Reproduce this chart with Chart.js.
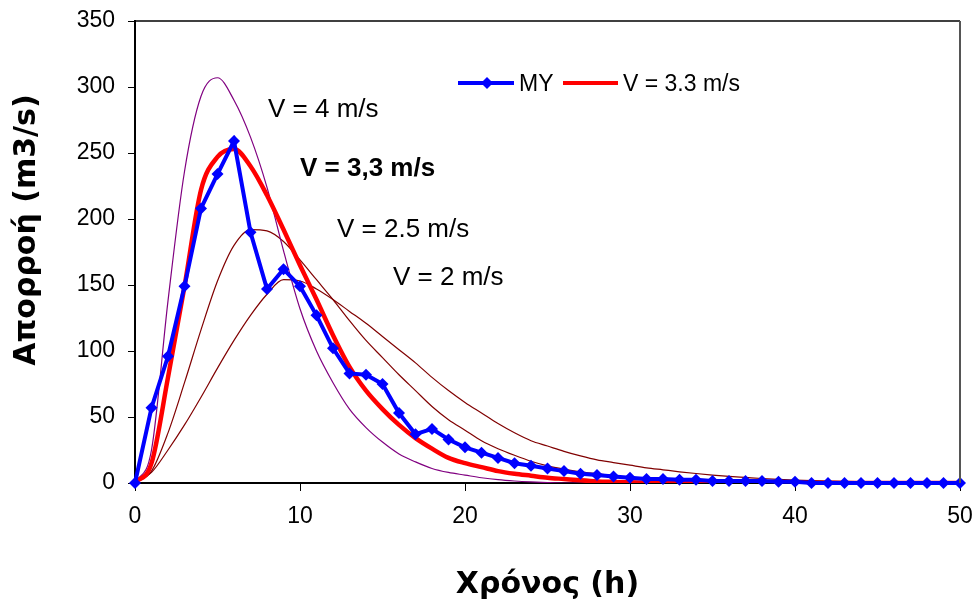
<!DOCTYPE html>
<html>
<head>
<meta charset="utf-8">
<script src="https://cdn.jsdelivr.net/npm/chart.js@4/dist/chart.umd.min.js"></script>
<style>
    body { margin: 0; background: #fff; }
    canvas { display: block; }
</style>
</head>
<body>
<canvas id="canvas" width="974" height="606"></canvas>
<script>
// time axis (h)
var hours = [0, 1, 2, 3, 4, 5, 6, 7, 8, 9, 10, 11, 12, 13, 14, 15, 16, 17, 18, 19, 20,
    21, 22, 23, 24, 25, 26, 27, 28, 29, 30, 31, 32, 33, 34, 35, 36, 37, 38, 39, 40,
    41, 42, 43, 44, 45, 46, 47, 48, 49, 50];

// measured runoff (m3/s)
var flowMY = [0, 57, 96, 149, 208, 234, 259, 190, 147, 162, 149, 127, 102, 83, 82, 75, 53, 37, 41, 33, 27,
    23, 19, 15, 13, 11, 9, 7, 6, 5, 4, 3, 3, 2.5, 2.5, 1.5, 1.5, 1.5, 1.5, 1, 1,
    0, 0, 0, 0, 0, 0, 0, 0, 0, 0];

// simulated runoff for different flow velocities
var flowV4 = [0, 25, 138, 236, 293, 307, 290, 262, 224, 176, 132, 100, 76, 56, 42, 31, 22, 16, 11, 8, 6,
    4, 2.5, 1.5, 0.8, 0.3, 0, 0, 0, 0, 0, 0, 0, 0, 0, 0, 0, 0, 0, 0, 0,
    0, 0, 0, 0, 0, 0, 0, 0, 0, 0];
var flowV33 = [0, 15, 80, 149, 222, 247, 253, 240, 218, 192, 165, 139, 112, 88, 70, 56, 44, 34, 26, 19, 15,
    12, 9, 7, 5.5, 4, 3, 2, 1.2, 0.8, 0.5, 0.3, 0, 0, 0, 0, 0, 0, 0, 0, 0,
    0, 0, 0, 0, 0, 0, 0, 0, 0, 0];
var flowV25 = [0, 9, 38, 76, 116, 153, 180, 192, 191, 183, 169, 154, 139, 123, 108, 95, 82, 70, 58, 48, 40,
    32, 26, 21, 16.5, 13, 10.5, 8.5, 7, 5.5, 4.5, 3.5, 2.8, 2.2, 1.7, 1.3, 1, 0.7, 0.5, 0.3, 0.2,
    0.1, 0, 0, 0, 0, 0, 0, 0, 0, 0];
var flowV2 = [0, 8, 25, 44, 65, 87, 108, 127, 143, 154, 153, 147, 139, 130, 121, 111, 101, 91, 80, 70, 61,
    53, 45, 38, 32, 28, 24, 20.5, 17.5, 15.5, 13.5, 11.5, 10, 8.5, 7.2, 6, 5, 4.2, 3.4, 2.8, 2.2,
    1.8, 1.5, 1.2, 1, 0.8, 0.6, 0.5, 0.4, 0.3, 0.2];

var yTicks = [0, 50, 100, 150, 200, 250, 300, 350];
var xTicks = [0, 10, 20, 30, 40, 50];

function pairs(values) {
    var out = [];
    for (let i = 0; i < values.length; i++) {
        out.push({ x: hours[i], y: values[i] });
    }
    return out;
}

var ctx = document.getElementById('canvas').getContext('2d');

// frame on top/right, y title and the text placed inside the plot
var extras = {
    id: 'extras',
    afterDatasetsDraw: function (chart) {
        var c = chart.ctx;
        var a = chart.chartArea;
        c.save();
        c.strokeStyle = '#000';
        c.lineWidth = 1.5;
        c.beginPath();
        c.moveTo(a.left, a.top);
        c.lineTo(a.right, a.top);
        c.stroke();
        c.strokeStyle = '#555';
        c.lineWidth = 2;
        c.beginPath();
        c.moveTo(a.right, a.top);
        c.lineTo(a.right, a.bottom);
        c.stroke();

        // legend
        c.lineWidth = 4;
        c.strokeStyle = '#0000FF';
        c.beginPath();
        c.moveTo(458, 83);
        c.lineTo(514, 83);
        c.stroke();
        c.fillStyle = '#0000FF';
        c.beginPath();
        c.moveTo(487, 77);
        c.lineTo(493, 83);
        c.lineTo(487, 89);
        c.lineTo(481, 83);
        c.closePath();
        c.fill();
        c.strokeStyle = '#FF0000';
        c.beginPath();
        c.moveTo(563, 83);
        c.lineTo(618, 83);
        c.stroke();

        c.fillStyle = '#000';
        c.textBaseline = 'alphabetic';
        c.font = '23px Arial, "Liberation Sans"';
        c.fillText('MY', 519, 91);
        c.fillText('V = 3.3 m/s', 623, 91);

        c.font = '26px Arial, "Liberation Sans"';
        c.fillText('V = 4 m/s', 268, 117);
        c.fillText('V = 2.5 m/s', 337, 237);
        c.fillText('V = 2 m/s', 393, 285);
        c.font = 'bold 26px Arial, "Liberation Sans"';
        c.fillText('V = 3,3 m/s', 300, 176);

        // y axis title
        c.translate(27, 230);
        c.rotate(-Math.PI / 2);
        c.textAlign = 'center';
        c.textBaseline = 'middle';
        c.font = 'bold 30px "DejaVu Sans"';
        c.fillText('Απορροή (m3/s)', 0, 0);
        c.restore();
    }
};

var myChart = new Chart(ctx, {
    type: 'line',
    data: {
        datasets: [{
            label: 'MY',
            data: pairs(flowMY),
            borderColor: '#0000FF',
            backgroundColor: '#0000FF',
            borderWidth: 4,
            pointStyle: 'rectRot',
            pointRadius: 6,
            pointBorderWidth: 0,
            tension: 0,
            clip: false,
            order: 0
        }, {
            label: 'V = 3.3 m/s',
            data: pairs(flowV33),
            borderColor: '#FF0000',
            borderWidth: 4.5,
            pointRadius: 0,
            cubicInterpolationMode: 'monotone',
            order: 1
        }, {
            label: 'V = 4 m/s',
            data: pairs(flowV4),
            borderColor: '#800080',
            borderWidth: 1.2,
            pointRadius: 0,
            cubicInterpolationMode: 'monotone',
            order: 2
        }, {
            label: 'V = 2.5 m/s',
            data: pairs(flowV25),
            borderColor: '#800000',
            borderWidth: 1.2,
            pointRadius: 0,
            cubicInterpolationMode: 'monotone',
            order: 3
        }, {
            label: 'V = 2 m/s',
            data: pairs(flowV2),
            borderColor: '#800000',
            borderWidth: 1.2,
            pointRadius: 0,
            cubicInterpolationMode: 'monotone',
            order: 4
        }]
    },
    options: {
        responsive: false,
        animation: false,
        layout: { padding: { left: 0, right: 14, top: 21, bottom: 0 } },
        plugins: {
            legend: { display: false },
            tooltip: { enabled: false }
        },
        scales: {
            x: {
                type: 'linear',
                min: 0,
                max: 50,
                afterFit: function (scale) {
                    scale.height = 123;
                    scale.paddingLeft = 0;
                    scale.paddingRight = 0;
                },
                afterBuildTicks: function (scale) {
                    scale.ticks = xTicks.map(function (v) { return { value: v }; });
                },
                ticks: {
                    color: '#000',
                    font: { family: 'Arial, "Liberation Sans"', size: 23 },
                    padding: 12,
                    maxRotation: 0
                },
                grid: {
                    drawOnChartArea: false,
                    drawTicks: true,
                    tickLength: 8,
                    tickColor: '#000',
                    tickWidth: 1
                },
                border: { color: '#000', width: 2 },
                title: {
                    display: true,
                    text: 'Χρόνος (h)',
                    color: '#000',
                    font: { family: '"DejaVu Sans"', size: 30, weight: 'bold' },
                    padding: { top: 0, bottom: 3 }
                }
            },
            y: {
                min: 0,
                max: 350,
                afterFit: function (scale) {
                    scale.width = 135;
                    scale.paddingTop = 0;
                    scale.paddingBottom = 0;
                },
                afterBuildTicks: function (scale) {
                    scale.ticks = yTicks.map(function (v) { return { value: v }; });
                },
                ticks: {
                    color: '#000',
                    font: { family: 'Arial, "Liberation Sans"', size: 23 },
                    padding: 13
                },
                grid: {
                    drawOnChartArea: false,
                    drawTicks: true,
                    tickLength: 7,
                    tickColor: '#000',
                    tickWidth: 1
                },
                border: { color: '#000', width: 2 }
            }
        }
    },
    plugins: [extras]
});
</script>
</body>
</html>
